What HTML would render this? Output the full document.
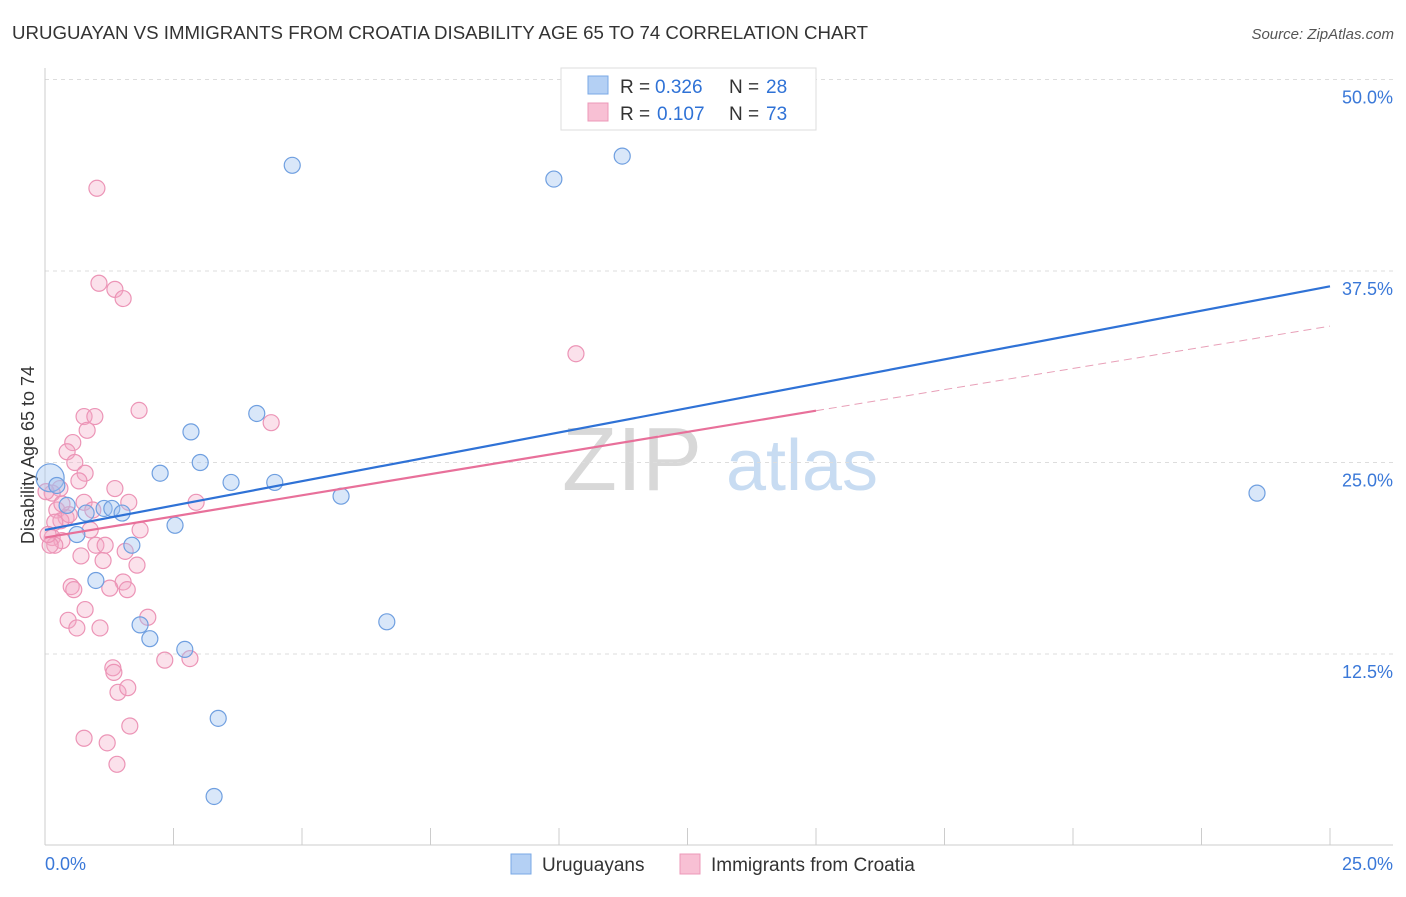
<!DOCTYPE html>
<html><head><meta charset="utf-8"><style>
body{margin:0;background:#fff;font-family:"Liberation Sans",sans-serif;}
svg text{font-family:"Liberation Sans",sans-serif;}
</style></head><body>
<svg id="chart" width="1406" height="892">
<text x="12" y="39" font-size="18" fill="#333" textLength="856" lengthAdjust="spacingAndGlyphs">URUGUAYAN VS IMMIGRANTS FROM CROATIA DISABILITY AGE 65 TO 74 CORRELATION CHART</text>
<text x="1394" y="39" font-size="15" fill="#555" font-style="italic" text-anchor="end">Source: ZipAtlas.com</text>
<g><text x="632" y="490" font-size="90" fill="#d8d8d8" font-family="Liberation Serif" text-anchor="middle">ZIP</text><text x="802" y="490" font-size="72" fill="#c8dcf2" text-anchor="middle">atlas</text></g>
<g id="grid"></g>
<g id="axes"></g>
<text transform="translate(34,455) rotate(-90)" font-size="18" fill="#333" text-anchor="middle">Disability Age 65 to 74</text>
<g id="points"></g>
<g id="lines"></g>
<g>
<rect x="561" y="68" width="255" height="62" fill="#fff" stroke="#ddd"/>
<rect x="588" y="76" width="20" height="18" fill="#b4d0f4" stroke="#7aa8e6"/>
<text x="620" y="93" font-size="19" fill="#333">R =</text>
<text x="655" y="93" font-size="19" fill="#2f72d6">0.326</text>
<text x="729" y="93" font-size="19" fill="#333">N =</text>
<text x="766" y="93" font-size="19" fill="#2f72d6">28</text>
<rect x="588" y="103" width="20" height="18" fill="#f8c0d4" stroke="#ec98b8"/>
<text x="620" y="120" font-size="19" fill="#333">R =</text>
<text x="657" y="120" font-size="19" fill="#2f72d6">0.107</text>
<text x="729" y="120" font-size="19" fill="#333">N =</text>
<text x="766" y="120" font-size="19" fill="#2f72d6">73</text>
</g>
<g>
<rect x="511" y="854" width="20" height="20" fill="#b4d0f4" stroke="#7aa8e6"/>
<text x="542" y="871" font-size="19" fill="#333">Uruguayans</text>
<rect x="680" y="854" width="20" height="20" fill="#f8c0d4" stroke="#ec98b8"/>
<text x="711" y="871" font-size="19" fill="#333">Immigrants from Croatia</text>
</g>
</svg>
<script>
const yTicks=[12.5,25,37.5,50];
const yTickLabels=["12.5%","25.0%","37.5%","50.0%"];
const xTickLabels=["0.0%","25.0%"];
const blueX=[4.81,9.90,11.23,4.12,2.84,3.02,2.24,3.62,4.47,5.76,23.58,2.53,0.43,0.80,1.15,1.30,1.50,0.62,1.69,0.99,1.85,2.04,2.72,6.65,3.37,3.29,0.10,0.23];
const blueY=[44.4,43.5,45.0,28.2,27.0,25.0,24.3,23.7,23.7,22.8,23.0,20.9,22.2,21.7,22.0,22.0,21.7,20.3,19.6,17.3,14.4,13.5,12.8,14.6,8.3,3.2,24.0,23.5];
const pinkX=[1.01,1.05,1.36,1.52,10.33,1.83,0.76,0.97,0.82,4.40,0.54,0.43,0.58,0.78,0.66,1.36,0.29,0.14,2.94,1.63,0.76,0.93,0.23,0.41,0.31,0.47,0.19,1.85,0.88,0.14,0.33,0.19,0.99,1.56,1.17,0.70,1.13,1.79,1.52,0.51,1.26,1.60,0.56,0.78,2.00,0.45,0.62,1.07,2.33,2.82,1.32,1.34,1.42,1.61,1.65,0.76,1.21,1.40,0.10,0.06,0.33,0.02];
const pinkY=[42.9,36.7,36.3,35.7,32.1,28.4,28.0,28.0,27.1,27.6,26.3,25.7,25.0,24.3,23.8,23.3,23.3,23.0,22.4,22.4,22.4,21.9,21.9,21.4,21.2,21.6,21.1,20.6,20.6,20.1,19.9,19.6,19.6,19.2,19.6,18.9,18.6,18.3,17.2,16.9,16.8,16.7,16.7,15.4,14.9,14.7,14.2,14.2,12.1,12.2,11.6,11.3,10.0,10.3,7.8,7.0,6.7,5.3,19.6,20.3,22.3,23.1];
const blueLine=[20.6,36.5];
const pinkLine=[20.1,33.9];
const pinkSolidEnd=15;
const X=v=>45+v*51.4, Y=v=>845.5-v*15.32;
const NS="http://www.w3.org/2000/svg";
function mk(parent,tag,attrs){const e=document.createElementNS(NS,tag);for(const k in attrs)e.setAttribute(k,attrs[k]);document.getElementById(parent).appendChild(e);return e;}
yTicks.forEach((t,i)=>{
 const l=mk('grid','line',{x1:45,x2:1393,y1:Y(t),y2:Y(t),stroke:'#ddd','stroke-dasharray':'4,4'});
 
 
 const tx=mk('grid','text',{x:1393,y:Y(t)+24,'font-size':18,fill:'#3a78d8','text-anchor':'end'});
 tx.textContent=yTickLabels[i];
 
 
});
mk('axes','line',{x1:45,x2:45,y1:68,y2:845,stroke:'#ccc'});
mk('axes','line',{x1:45,x2:1393,y1:845,y2:845,stroke:'#ccc'});
for(let i=0;i<=10;i++){const l=mk('axes','line',{x1:X(i*2.5),x2:X(i*2.5),y1:828,y2:845,stroke:'#ccc'});
 
 }
const xl0=mk('axes','text',{x:45,y:870,'font-size':18,fill:'#3a78d8'});xl0.textContent=xTickLabels[0];


const xl1=mk('axes','text',{x:1393,y:870,'font-size':18,fill:'#3a78d8','text-anchor':'end'});xl1.textContent=xTickLabels[1];


pinkX.forEach((x,i)=>{const c=mk('points','circle',{cx:X(x),cy:Y(pinkY[i]),r:8,fill:'rgba(244,170,198,0.35)',stroke:'#ec94b6','stroke-width':1.2});
 
 });
blueX.forEach((x,i)=>{const c=mk('points','circle',{cx:X(x),cy:Y(blueY[i]),r:i==26?14:8,fill:'rgba(160,196,240,0.4)',stroke:'#6f9fe0','stroke-width':1.2});
 
 });
const bl=mk('lines','line',{x1:X(0),y1:Y(blueLine[0]),x2:X(25),y2:Y(blueLine[1]),stroke:'#2f72d6','stroke-width':2.2});


const pm=pinkLine[0]+(pinkLine[1]-pinkLine[0])*pinkSolidEnd/25;
const pl=mk('lines','line',{x1:X(0),y1:Y(pinkLine[0]),x2:X(pinkSolidEnd),y2:Y(pm),stroke:'#e8709a','stroke-width':2.2});


const pd=mk('lines','line',{x1:X(pinkSolidEnd),y1:Y(pm),x2:X(25),y2:Y(pinkLine[1]),stroke:'#e8a0b8','stroke-width':1,'stroke-dasharray':'8,5'});


</script>
</body></html>
